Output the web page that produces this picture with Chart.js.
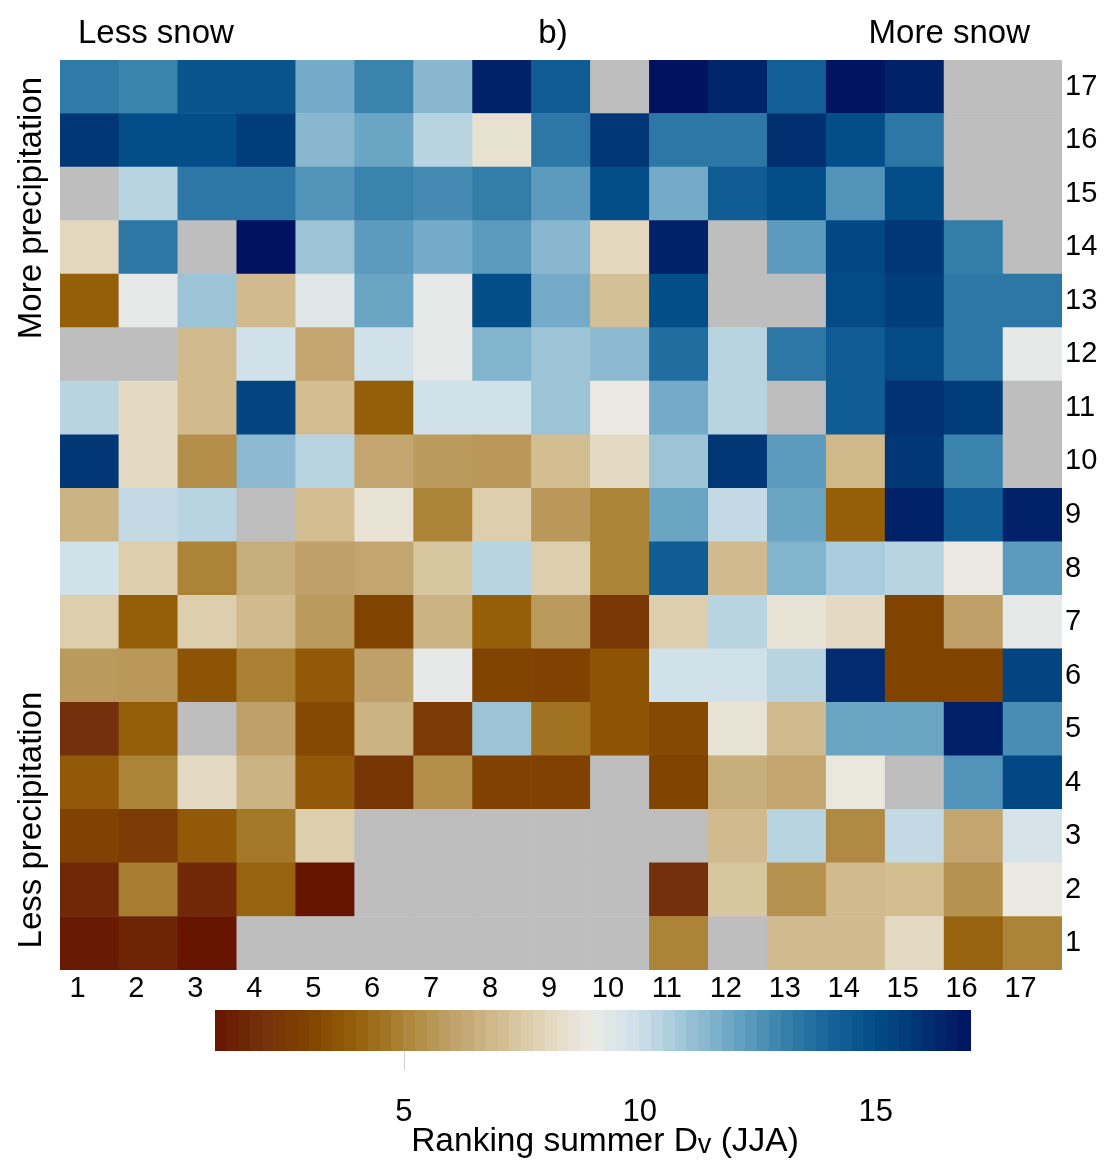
<!DOCTYPE html>
<html>
<head>
<meta charset="utf-8">
<script src="https://cdn.jsdelivr.net/npm/chart.js@4/dist/chart.umd.min.js"></script>
<style>
html,body{margin:0;padding:0;background:#fff;}
#wrap{width:1104px;height:1161px;position:relative;}
</style>
</head>
<body>
<div id="wrap"><canvas id="c" width="1104" height="1161"></canvas></div>
<script>
// ---- categories / tick labels ----
const columnLabels = ['1','2','3','4','5','6','7','8','9','10','11','12','13','14','15','16','17'];
const rowLabels    = ['1','2','3','4','5','6','7','8','9','10','11','12','13','14','15','16','17'];
const colorbarTicks = [5, 10, 15];
const cbMin = 1, cbMax = 17;

// ---- values (ranking), one array per row (row 1 = less precipitation), columns 1..17; null = no data ----
const row01 = [1.2, 1.6, 1.0, null, null, null, null, null, null, null, 5.0, null, 7.0, 7.0, 8.2, 4.1, 5.0];
const row02 = [1.7, 4.8, 1.7, 4.1, 1.0, null, null, null, null, null, 2.0, 7.4, 5.5, 7.0, 7.1, 5.5, 8.9];
const row03 = [2.9, 2.6, 3.8, 4.7, 7.7, null, null, null, null, null, null, 7.0, 10.4, 5.2, 10.2, 6.2, 9.7];
const row04 = [3.8, 5.0, 8.2, 6.7, 3.8, 2.3, 5.4, 2.9, 2.9, null, 3.0, 6.5, 6.2, 8.8, null, 12.5, 15.2];
const row05 = [2.0, 4.0, null, 6.0, 3.2, 6.7, 2.6, 11.0, 4.5, 3.6, 3.2, 8.6, 7.0, 12.0, 12.0, 16.6, 12.7];
const row06 = [5.8, 5.7, 3.6, 4.9, 3.8, 6.0, 9.2, 3.0, 2.9, 3.6, 9.9, 9.9, 10.4, 16.2, 3.0, 3.0, 15.3];
const row07 = [7.7, 4.0, 7.7, 7.0, 5.8, 3.0, 6.7, 4.0, 5.8, 2.4, 7.7, 10.4, 8.6, 8.2, 3.0, 6.0, 9.2];
const row08 = [9.9, 7.7, 5.0, 6.5, 6.0, 6.2, 7.4, 10.4, 7.7, 5.0, 14.3, 7.0, 11.5, 10.7, 10.4, 8.9, 12.3];
const row09 = [6.7, 10.2, 10.4, null, 7.1, 8.6, 5.0, 7.7, 5.7, 5.0, 12.0, 10.2, 12.0, 4.0, 16.5, 14.3, 16.5];
const row10 = [15.8, 8.2, 5.4, 11.3, 10.4, 6.2, 5.8, 5.7, 7.1, 8.2, 11.0, 15.8, 12.3, 6.9, 15.8, 13.0, null];
const row11 = [10.4, 8.2, 7.0, 15.3, 7.1, 4.0, 9.9, 9.9, 11.0, 8.9, 11.8, 10.4, null, 14.3, 16.0, 15.6, null];
const row12 = [null, null, 7.0, 9.9, 6.2, 9.9, 9.2, 11.5, 11.0, 11.3, 13.7, 10.4, 13.4, 14.3, 15.1, 13.4, 9.2];
const row13 = [4.0, 9.2, 11.0, 7.0, 9.4, 12.0, 9.2, 15.0, 11.8, 7.2, 15.0, null, null, 15.1, 15.6, 13.4, 13.4];
const row14 = [8.1, 13.4, null, 17.0, 11.0, 12.3, 11.8, 12.3, 11.4, 8.1, 16.5, null, 12.3, 15.2, 15.8, 13.2, null];
const row15 = [null, 10.4, 13.4, 13.4, 12.5, 13.0, 12.8, 13.2, 12.3, 15.0, 11.8, 14.3, 15.0, 12.5, 15.0, null, null];
const row16 = [15.8, 15.0, 15.0, 15.6, 11.4, 12.0, 10.4, 8.5, 13.4, 15.8, 13.4, 13.4, 16.1, 15.0, 13.4, null, null];
const row17 = [13.3, 13.0, 14.7, 14.7, 11.8, 13.0, 11.4, 16.5, 14.3, null, 17.0, 16.4, 14.2, 16.9, 16.5, null, null];

const rows = [row01,row02,row03,row04,row05,row06,row07,row08,row09,row10,row11,row12,row13,row14,row15,row16,row17];

// ---- colour scale (brown -> white -> blue), one stop per ranking 1..17 ----
const cmapStops = ['#661400','#74300a','#814300','#955f0a','#ac8438','#bfa068','#d1bb8e','#e2d6bb',
                   '#ecebe6','#cde0e9','#9cc3d6','#6aa5c4','#3a83ad','#16649a','#034d88','#023272','#001260'];
const missingColor = '#bebebe';

function hex2rgb(h){ return [parseInt(h.substr(1,2),16),parseInt(h.substr(3,2),16),parseInt(h.substr(5,2),16)]; }
const stopsRGB = cmapStops.map(hex2rgb);
function cmap(v){
  if (v === null || v === undefined || isNaN(v)) return missingColor;
  let t = (v - cbMin) / (cbMax - cbMin) * (stopsRGB.length - 1);
  t = Math.max(0, Math.min(stopsRGB.length - 1, t));
  const i = Math.min(stopsRGB.length - 2, Math.floor(t));
  const f = t - i;
  const a = stopsRGB[i], b = stopsRGB[i+1];
  const c = a.map((x,k)=>Math.round(x + (b[k]-x)*f));
  return 'rgb(' + c.join(',') + ')';
}

const FONT = '"Liberation Sans", Arial, Helvetica, sans-serif';

const datasets = rows.map((vals, i) => {
  const r = i + 1;
  return {
    label: 'Row ' + r,
    data: vals.map(() => [r - 0.5, r + 0.5]),
    backgroundColor: vals.map(v => cmap(v)),
    borderWidth: 0,
    barPercentage: 1.0,
    categoryPercentage: 1.0,
    grouped: false
  };
});

const overlay = {
  id: 'overlay',
  afterDraw(chart){
    const ctx = chart.ctx;
    ctx.save();
    ctx.fillStyle = '#000';
    ctx.textBaseline = 'alphabetic';
    ctx.font = '33px ' + FONT;
    ctx.textAlign = 'left';   ctx.fillText('Less snow', 78, 43);
    ctx.textAlign = 'center'; ctx.fillText('b)', 553, 43);
    ctx.textAlign = 'right';  ctx.fillText('More snow', 1030, 43);

    // rotated side labels
    ctx.textAlign = 'center';
    ctx.save(); ctx.translate(41, 208); ctx.rotate(-Math.PI/2); ctx.fillText('More precipitation', 0, 0); ctx.restore();
    ctx.save(); ctx.translate(41, 820); ctx.rotate(-Math.PI/2); ctx.fillText('Less precipitation', 0, 0); ctx.restore();

    // colour bar
    const x0 = 215, x1 = 970, y0 = 1010, y1 = 1051, n = 64;
    const w = (x1 - x0) / n;
    for (let i = 0; i < n; i++){
      ctx.fillStyle = cmap(cbMin + (i + 0.5) / n * (cbMax - cbMin));
      ctx.fillRect(Math.floor(x0 + i*w), y0, Math.ceil(w) + 1, y1 - y0);
    }
    const cbX = v => x0 + (v - cbMin) / (cbMax - cbMin) * (x1 - x0);
    ctx.strokeStyle = '#d0d0d0'; ctx.lineWidth = 1;
    ctx.beginPath(); ctx.moveTo(Math.round(cbX(colorbarTicks[0]))+0.5, y1); ctx.lineTo(Math.round(cbX(colorbarTicks[0]))+0.5, 1070); ctx.stroke();

    ctx.fillStyle = '#000';
    ctx.font = '31px ' + FONT;
    ctx.textAlign = 'center';
    colorbarTicks.forEach(t => ctx.fillText(String(t), cbX(t), 1121));

    // colour bar title with subscript v
    const p1 = 'Ranking summer D', p2 = 'v', p3 = ' (JJA)';
    ctx.font = '33.5px ' + FONT; const w1 = ctx.measureText(p1).width, w3 = ctx.measureText(p3).width;
    ctx.font = '27px ' + FONT; const w2 = ctx.measureText(p2).width;
    const tot = w1 + w2 + w3; let xs = 605 - tot/2;
    ctx.textAlign = 'left';
    ctx.font = '33.5px ' + FONT; ctx.fillText(p1, xs, 1151); xs += w1;
    ctx.font = '27px ' + FONT; ctx.fillText(p2, xs, 1153); xs += w2;
    ctx.font = '33.5px ' + FONT; ctx.fillText(p3, xs, 1151);
    ctx.restore();
  }
};

new Chart(document.getElementById('c'), {
  type: 'bar',
  data: { labels: columnLabels, datasets: datasets },
  options: {
    responsive: false,
    animation: false,
    devicePixelRatio: 1,
    layout: { padding: { left: 60, top: 60, right: 0, bottom: 151 } },
    plugins: { legend: { display: false }, tooltip: { enabled: false } },
    scales: {
      x: {
        type: 'category',
        offset: true,
        grid: { display: false, drawTicks: false },
        border: { display: false },
        ticks: { color: '#000', font: { size: 29, family: FONT }, padding: 2, labelOffset: -12, maxRotation: 0, autoSkip: false },
        afterFit(s){ s.height = 40; }
      },
      y: {
        type: 'linear',
        position: 'right',
        min: 0.5, max: 17.5,
        grid: { display: false, drawTicks: false },
        border: { display: false },
        afterBuildTicks(s){ s.ticks = rowLabels.map((_, i) => ({ value: i + 1 })); },
        ticks: { color: '#000', font: { size: 29, family: FONT }, padding: 3, autoSkip: false,
                 callback: (v, idx) => rowLabels[idx] },
        afterFit(s){ s.width = 42; }
      }
    }
  },
  plugins: [overlay]
});
</script>
</body>
</html>
